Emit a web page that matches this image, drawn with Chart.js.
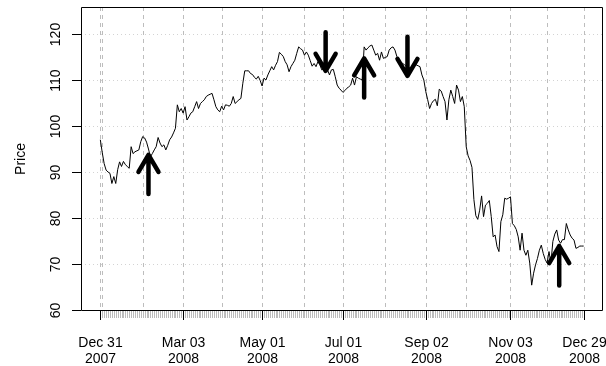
<!DOCTYPE html>
<html>
<head>
<meta charset="utf-8">
<title>Price</title>
<script src="https://cdn.jsdelivr.net/npm/chart.js@4.4.1/dist/chart.umd.min.js"></script>
<style>
    body { margin: 0; background: #fff; }
    #wrap { width: 606px; height: 366px; }
</style>
</head>
<body>
<div id="wrap"><canvas id="priceChart" width="606" height="366"></canvas></div>
<script>
// daily closes, Dec 31 2007 .. Dec 29 2008 (one per trading day)
const prices = [
    97.0, 94.2, 91.8, 90.4, 90.0, 89.7, 87.5, 89.0, 87.5, 90.5,
    92.2, 91.2, 92.3, 91.6, 91.2, 90.8, 95.5, 94.0, 94.4, 94.6,
    94.8, 96.6, 97.7, 97.4, 96.5, 95.0, 93.3, 94.0, 94.8, 95.5,
    97.5, 96.3, 95.5, 95.9, 94.8, 95.8, 97.0, 97.6, 98.5, 99.5,
    104.6, 103.1, 103.8, 102.8, 104.2, 101.3, 102.0, 102.8, 103.1, 104.2,
    105.3, 103.8, 104.9, 105.3, 105.7, 106.4, 106.7, 106.9, 107.1, 105.7,
    104.2, 103.5, 103.1, 104.3, 103.5, 104.6, 104.5, 104.3, 104.9, 106.4,
    104.9, 105.3, 105.7, 106.0, 109.3, 112.0, 112.0, 112.0, 111.4, 111.2,
    110.6, 110.2, 110.8, 109.9, 108.7, 110.4, 110.0, 111.1, 112.0, 112.9,
    112.2, 113.2, 114.0, 116.0, 115.6, 115.1, 114.0, 113.3, 111.8, 112.9,
    113.6, 114.3, 115.8, 117.2, 116.8, 116.5, 115.4, 116.1, 115.4, 114.2,
    113.0, 113.6, 112.9, 114.0, 113.3, 112.2, 112.5, 112.3, 112.2, 111.1,
    112.2, 112.3, 110.7, 108.9, 108.2, 107.8, 107.3, 107.7, 108.2, 108.5,
    108.9, 110.4, 108.9, 110.7, 110.4, 110.2, 110.0, 117.2, 116.5, 117.0,
    117.4, 117.6, 116.5, 115.4, 115.8, 114.3, 116.1, 114.7, 114.9, 115.1,
    116.5, 117.0, 117.2, 116.5, 115.1, 114.3, 113.9, 113.6, 113.3, 112.9,
    112.5, 112.7, 112.9, 113.1, 113.3, 113.1, 112.9, 111.1, 110.0, 107.5,
    105.7, 103.8, 104.9, 105.5, 105.8, 104.4, 108.0, 107.6, 106.4, 105.3,
    101.3, 105.7, 107.8, 106.4, 104.9, 108.9, 107.8, 105.3, 106.4, 104.2,
    95.5, 93.5, 92.5, 91.0, 84.0, 80.5, 79.7, 81.7, 84.8, 80.3,
    82.8, 83.2, 83.8, 80.3, 75.9, 76.3, 73.8, 72.7, 79.2, 80.7,
    84.3, 84.1, 84.3, 84.6, 78.8, 78.3, 77.5, 75.9, 73.0, 76.7,
    73.0, 71.9, 73.0, 70.2, 65.4, 68.0, 69.8, 71.2, 73.0, 74.1,
    72.3, 71.0, 70.2, 72.7, 70.2, 74.9, 76.5, 77.4, 75.2, 74.5,
    75.3, 75.3, 78.8, 77.4, 76.3, 75.6, 75.2, 73.4, 73.6, 73.9,
    73.9, 73.9
];

// x axis: labelled observations and month-start grid lines (observation index)
const labelIdx = [0, 43, 84, 126, 169, 213, 251];
const labelDay = ["Dec 31", "Mar 03", "May 01", "Jul 01", "Sep 02", "Nov 03", "Dec 29"];
const labelYear = ["2007", "2008", "2008", "2008", "2008", "2008", "2008"];
const monthIdx = [0, 1, 22, 43, 63, 84, 106, 126, 148, 169, 190, 213, 232, 251];

// y axis
const yTicks = [60, 70, 80, 90, 100, 110, 120];
const yMin = 59.78;
const yMax = 125.87;

// signal arrows: observation index, arrow start price, arrow tip price
const arrowIdx = [25, 117, 137, 159.5, 238.3];
const arrowFrom = [85.2, 120.4, 106.2, 119.4, 65.3];
const arrowTip = [93.7, 112.0, 114.7, 110.9, 73.9];

const FONT = '14px "Liberation Sans", Arial, Helvetica, sans-serif';
const n = prices.length;

const rPlot = {
    id: 'rPlot',
    beforeDatasetsDraw(chart) {
        const { ctx, chartArea: a, scales: { x, y } } = chart;
        ctx.save();
        //horizontal dotted grid
        ctx.strokeStyle = '#d3d3d3';
        ctx.lineWidth = 1;
        ctx.setLineDash([1, 3]);
        yTicks.forEach(v => {
            const py = Math.round(y.getPixelForValue(v)) + 0.5;
            ctx.beginPath();
            ctx.moveTo(a.left, py);
            ctx.lineTo(a.right, py);
            ctx.stroke();
        });
        //vertical dashed grid
        ctx.strokeStyle = '#bdbdbd';
        ctx.setLineDash([4, 4]);
        monthIdx.forEach(i => {
            const px = Math.round(x.getPixelForValue(i)) + 0.5;
            ctx.beginPath();
            ctx.moveTo(px, a.top);
            ctx.lineTo(px, a.bottom);
            ctx.stroke();
        });
        ctx.restore();
    },
    afterDatasetsDraw(chart) {
        const { ctx, chartArea: a, scales: { x, y } } = chart;
        ctx.save();
        ctx.setLineDash([]);

        //arrows
        ctx.strokeStyle = '#000';
        ctx.lineWidth = 4.5;
        ctx.lineCap = 'round';
        ctx.lineJoin = 'round';
        arrowIdx.forEach((i, k) => {
            const px = x.getPixelForValue(i);
            const p0 = y.getPixelForValue(arrowFrom[k]);
            const p1 = y.getPixelForValue(arrowTip[k]);
            const dir = p1 < p0 ? 1 : -1;
            ctx.beginPath();
            ctx.moveTo(px, p0);
            ctx.lineTo(px, p1);
            ctx.moveTo(px - 10, p1 + dir * 17);
            ctx.lineTo(px, p1);
            ctx.lineTo(px + 10, p1 + dir * 17);
            ctx.stroke();
        });
        ctx.lineCap = 'butt';

        //box
        ctx.strokeStyle = '#000';
        ctx.lineWidth = 1;
        ctx.strokeRect(Math.round(a.left) + 0.5, Math.round(a.top) + 0.5,
            Math.round(a.right - a.left) - 1, Math.round(a.bottom - a.top) - 1);

        //minor ticks at every observation
        const base = Math.round(a.bottom);
        ctx.strokeStyle = '#bbbbbb';
        for (let i = 0; i < n; i++) {
            const px = Math.round(x.getPixelForValue(i)) + 0.5;
            ctx.beginPath();
            ctx.moveTo(px, base);
            ctx.lineTo(px, base + 7);
            ctx.stroke();
        }

        //major ticks + labels
        ctx.strokeStyle = '#000';
        ctx.fillStyle = '#000';
        ctx.font = FONT;
        ctx.textAlign = 'center';
        ctx.textBaseline = 'alphabetic';
        labelIdx.forEach((i, k) => {
            const px = Math.round(x.getPixelForValue(i)) + 0.5;
            ctx.beginPath();
            ctx.moveTo(px, base);
            ctx.lineTo(px, base + 9);
            ctx.stroke();
            ctx.fillText(labelDay[k], px, 347);
            ctx.fillText(labelYear[k], px, 363);
        });

        //y ticks + labels
        const left = Math.round(a.left);
        yTicks.forEach(v => {
            const py = Math.round(y.getPixelForValue(v)) + 0.5;
            ctx.beginPath();
            ctx.moveTo(left - 9, py);
            ctx.lineTo(left, py);
            ctx.stroke();
            ctx.save();
            ctx.translate(60, py);
            ctx.rotate(-Math.PI / 2);
            ctx.fillText(String(v), 0, 0);
            ctx.restore();
        });

        //axis title
        ctx.save();
        ctx.translate(25, (a.top + a.bottom) / 2);
        ctx.rotate(-Math.PI / 2);
        ctx.fillText('Price', 0, 0);
        ctx.restore();

        ctx.restore();
    }
};

document.addEventListener("DOMContentLoaded", () => {
    const ctx = document.getElementById("priceChart").getContext("2d");

    new Chart(ctx, {
        type: 'line',
        data: {
            datasets: [{
                label: 'Price',
                data: prices.map((p, i) => ({ x: i, y: p })),
                borderColor: '#000',
                borderWidth: 1,
                pointRadius: 0,
                tension: 0,
                fill: false
            }]
        },
        options: {
            responsive: false,
            devicePixelRatio: 1,
            animation: false,
            layout: { padding: { top: 7, right: 3, left: 0, bottom: 0 } },
            plugins: {
                legend: { display: false },
                tooltip: { enabled: false }
            },
            scales: {
                x: {
                    type: 'linear',
                    min: -0.04 * (n - 1),
                    max: (n - 1) * 1.04,
                    ticks: { display: false },
                    grid: { display: false },
                    border: { display: false },
                    afterFit: s => { s.height = 55; }
                },
                y: {
                    min: yMin,
                    max: yMax,
                    ticks: { display: false },
                    grid: { display: false },
                    border: { display: false },
                    afterFit: s => { s.width = 81; }
                }
            }
        },
        plugins: [rPlot]
    });
});
</script>
</body>
</html>
